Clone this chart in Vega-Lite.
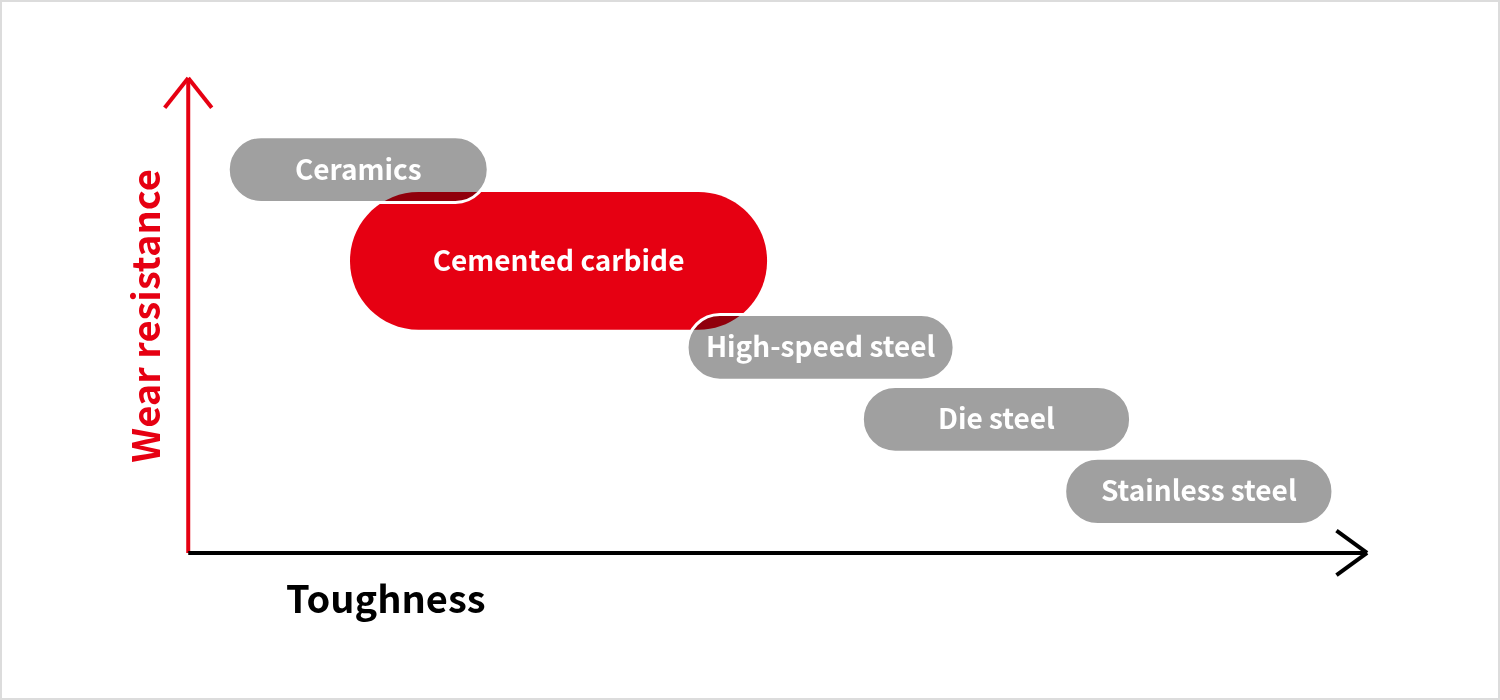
{
  "$schema": "https://vega.github.io/schema/vega-lite/v6.json",
  "width": 1500,
  "height": 700,
  "padding": 0,
  "autosize": {"type": "fit", "contains": "padding"},
  "background": "white",
  "config": {"view": {"stroke": "#dcdcdc", "strokeWidth": 4}, "font": "Noto Sans CJK JP"},
  "datasets": {
    "pills": [
      {"name": "Ceramics", "kind": "gray", "t1": 3.4, "t2": 25.5, "w1": 74.1, "w2": 88.0},
      {"name": "Cemented carbide", "kind": "red", "t1": 13.75, "t2": 49.2, "w1": 47.2, "w2": 76.3},
      {"name": "High-speed steel", "kind": "gray", "t1": 42.4, "t2": 65.1, "w1": 36.5, "w2": 50.4},
      {"name": "Die steel", "kind": "gray", "t1": 57.3, "t2": 80.1, "w1": 21.3, "w2": 35.2},
      {"name": "Stainless steel", "kind": "gray", "t1": 74.5, "t2": 97.3, "w1": 6.0, "w2": 20.0}
    ],
    "lines": [
      {"part": "y axis", "x": 0, "y": 0, "x2": 0, "y2": 100.4, "c": "#e60012"},
      {"part": "y arrow left", "x": -2.0, "y": 94.1, "x2": 0, "y2": 100.4, "c": "#e60012"},
      {"part": "y arrow right", "x": 2.0, "y": 94.1, "x2": 0, "y2": 100.4, "c": "#e60012"},
      {"part": "x axis", "x": 0, "y": 0, "x2": 100.2, "y2": 0, "c": "#000000"},
      {"part": "x arrow up", "x": 97.6, "y": 4.7, "x2": 100.2, "y2": 0, "c": "#000000"},
      {"part": "x arrow down", "x": 97.6, "y": -4.7, "x2": 100.2, "y2": 0, "c": "#000000"}
    ],
    "titles": [
      {"label": "Toughness", "x": 8.3, "y": -10.3, "c": "#000000"}
    ],
    "ytitles": [
      {"label": "Wear resistance", "x": -3.3, "y": 50.1, "c": "#e60012"}
    ]
  },
  "layer": [
    {
      "data": {"name": "pills"},
      "transform": [{"filter": "datum.kind === 'red'"}],
      "mark": {"type": "rect", "cornerRadius": 68.5, "color": "#e60012"},
      "encoding": {
        "x": {"field": "t1", "type": "quantitative", "scale": {"domain": [-16, 111.5], "nice": false, "zero": false}, "axis": null},
        "x2": {"field": "t2"},
        "y": {"field": "w1", "type": "quantitative", "scale": {"domain": [-31.1, 116.9], "nice": false, "zero": false}, "axis": null},
        "y2": {"field": "w2"}
      }
    },
    {
      "data": {"name": "pills"},
      "transform": [{"filter": "datum.kind === 'gray'"}],
      "mark": {"type": "rect", "cornerRadius": 33, "color": "#a0a0a0", "blend": "multiply"},
      "encoding": {
        "x": {"field": "t1", "type": "quantitative"},
        "x2": {"field": "t2"},
        "y": {"field": "w1", "type": "quantitative"},
        "y2": {"field": "w2"}
      }
    },
    {
      "data": {"name": "pills"},
      "transform": [{"filter": "datum.kind === 'gray'"}],
      "mark": {"type": "rect", "cornerRadius": 33, "fill": null, "fillOpacity": 0, "stroke": "white", "strokeWidth": 3},
      "encoding": {
        "x": {"field": "t1", "type": "quantitative"},
        "x2": {"field": "t2"},
        "y": {"field": "w1", "type": "quantitative"},
        "y2": {"field": "w2"}
      }
    },
    {
      "data": {"name": "pills"},
      "transform": [
        {"calculate": "(datum.t1 + datum.t2) / 2", "as": "tc"},
        {"calculate": "(datum.w1 + datum.w2) / 2", "as": "wc"}
      ],
      "mark": {"type": "text", "font": "Noto Sans CJK JP", "fontWeight": "bold", "fontSize": 28, "dy": 2, "color": "white", "align": "center", "baseline": "middle"},
      "encoding": {
        "x": {"field": "tc", "type": "quantitative"},
        "y": {"field": "wc", "type": "quantitative"},
        "text": {"field": "name"}
      }
    },
    {
      "data": {"name": "lines"},
      "mark": {"type": "rule", "strokeWidth": 4, "strokeCap": "butt"},
      "encoding": {
        "x": {"field": "x", "type": "quantitative"},
        "y": {"field": "y", "type": "quantitative"},
        "x2": {"field": "x2"},
        "y2": {"field": "y2"},
        "color": {"field": "c", "type": "nominal", "scale": null}
      }
    },
    {
      "data": {"name": "titles"},
      "mark": {"type": "text", "font": "Noto Sans CJK JP", "fontWeight": "bold", "fontSize": 38, "align": "left", "baseline": "middle"},
      "encoding": {
        "x": {"field": "x", "type": "quantitative"},
        "y": {"field": "y", "type": "quantitative"},
        "text": {"field": "label"},
        "color": {"field": "c", "type": "nominal", "scale": null}
      }
    },
    {
      "data": {"name": "ytitles"},
      "mark": {"type": "text", "font": "Noto Sans CJK JP", "fontWeight": "bold", "fontSize": 38, "angle": 270, "align": "center", "baseline": "middle"},
      "encoding": {
        "x": {"field": "x", "type": "quantitative"},
        "y": {"field": "y", "type": "quantitative"},
        "text": {"field": "label"},
        "color": {"field": "c", "type": "nominal", "scale": null}
      }
    }
  ]
}
